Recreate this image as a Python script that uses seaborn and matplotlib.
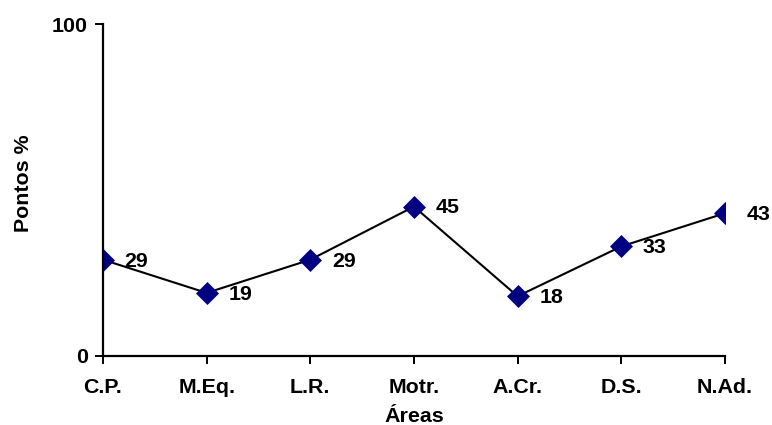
import matplotlib
matplotlib.use("Agg")
import matplotlib.pyplot as plt
import seaborn as sns
import pandas as pd

# Pontuação percentual por área
areas = ["C.P.", "M.Eq.", "L.R.", "Motr.", "A.Cr.", "D.S.", "N.Ad."]
pontos = [29, 19, 29, 45, 18, 33, 43]
y_ticks = [0, 100]

sns.set_style("ticks")
plt.rcParams["font.family"] = ["Liberation Sans", "DejaVu Sans"]
plt.rcParams["font.weight"] = "bold"
plt.rcParams["text.color"] = "black"
plt.rcParams["axes.labelcolor"] = "black"

FS = 15.4

df = pd.DataFrame({"Área": areas, "Pontos": pontos})

fig = plt.figure(figsize=(7.72, 4.25), dpi=100)
ax = fig.add_axes([0.1334, 0.1624, 0.939 - 0.1334, 0.9435 - 0.1624])

sns.lineplot(data=df, x="Área", y="Pontos", sort=False, ax=ax,
             color="black", linewidth=1.5, marker="D", markersize=11,
             markerfacecolor="#000080", markeredgecolor="#000080",
             markeredgewidth=0.5)

for i, v in enumerate(pontos):
    ax.annotate(str(v), xy=(i, v), xytext=(15.5, -1), textcoords="offset points",
                ha="left", va="center", fontsize=FS, fontweight="bold",
                color="black")

ax.set_xlim(0, len(areas) - 1)
ax.set_ylim(0, 100)
ax.set_yticks(y_ticks)
ax.set_yticklabels([str(t) for t in y_ticks])

for side in ("top", "right"):
    ax.spines[side].set_visible(False)
for side in ("left", "bottom"):
    ax.spines[side].set_linewidth(1.6)
    ax.spines[side].set_color("black")

ax.tick_params(axis="x", length=6, width=1.4, pad=10, labelsize=FS, colors="black")
ax.tick_params(axis="y", length=6, width=1.4, pad=5, labelsize=FS, colors="black")
for lab in ax.get_xticklabels() + ax.get_yticklabels():
    lab.set_fontweight("bold")

ax.set_xlabel("Áreas", fontsize=FS, fontweight="bold", color="black")
ax.set_ylabel("Pontos %", fontsize=FS, fontweight="bold", color="black")
ax.xaxis.set_label_coords(0.5, -0.155)
ax.yaxis.set_label_coords(-0.112, 0.521)

fig.savefig("out.png", dpi=100)
